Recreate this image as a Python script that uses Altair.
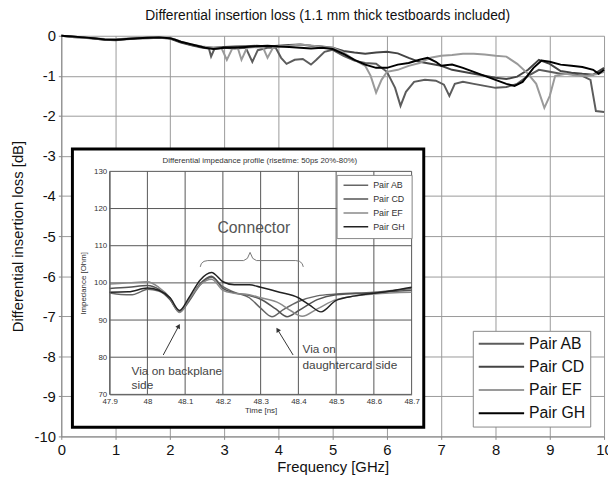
import altair as alt
import pandas as pd

# ---------------- data ----------------
PAIRS = ["Pair AB", "Pair CD", "Pair EF", "Pair GH"]

# main chart: (frequency GHz, insertion loss dB)
AB = [(0.0,0.0),(0.2,-0.03),(0.4,-0.05),(0.6,-0.07),(0.8,-0.1),(1.0,-0.11),(1.2,-0.09),(1.4,-0.07),(1.6,-0.06),(1.8,-0.05),(2.0,-0.07),(2.2,-0.17),(2.4,-0.24),(2.6,-0.3),(2.72,-0.32),(2.76,-0.52),(2.82,-0.33),(3.0,-0.3),(3.2,-0.32),(3.4,-0.3),(3.52,-0.65),(3.62,-0.36),(3.8,-0.3),(3.95,-0.3),(4.05,-0.55),(4.15,-0.7),(4.3,-0.6),(4.45,-0.58),(4.6,-0.72),(4.7,-0.6),(4.85,-0.4),(5.0,-0.35),(5.2,-0.5),(5.4,-0.62),(5.6,-0.68),(5.8,-0.7),(6.0,-0.9),(6.15,-1.3),(6.25,-1.75),(6.35,-1.4),(6.5,-1.15),(6.7,-1.1),(6.9,-1.12),(7.05,-1.22),(7.15,-1.5),(7.25,-1.2),(7.4,-1.15),(7.6,-1.2),(7.8,-1.25),(8.0,-1.3),(8.2,-1.28),(8.4,-1.2),(8.6,-1.0),(8.8,-0.85),(9.0,-0.9),(9.2,-0.95),(9.4,-0.95),(9.6,-1.0),(9.75,-1.1),(9.85,-1.88),(10.0,-1.9)]
CD = [(0.0,0.0),(0.2,-0.02),(0.4,-0.04),(0.6,-0.07),(0.8,-0.1),(1.0,-0.1),(1.2,-0.08),(1.4,-0.06),(1.6,-0.05),(1.8,-0.05),(2.0,-0.06),(2.2,-0.16),(2.4,-0.23),(2.6,-0.28),(2.8,-0.3),(3.0,-0.28),(3.2,-0.27),(3.4,-0.26),(3.6,-0.25),(3.8,-0.27),(4.0,-0.25),(4.2,-0.23),(4.4,-0.22),(4.6,-0.25),(4.8,-0.27),(5.0,-0.3),(5.2,-0.38),(5.4,-0.42),(5.6,-0.45),(5.8,-0.42),(6.0,-0.4),(6.2,-0.44),(6.4,-0.55),(6.6,-0.65),(6.8,-0.7),(7.0,-0.75),(7.2,-0.85),(7.4,-0.9),(7.6,-0.95),(7.8,-1.0),(8.0,-1.05),(8.2,-1.08),(8.4,-1.02),(8.6,-0.85),(8.8,-0.6),(9.0,-0.7),(9.2,-0.88),(9.4,-0.92),(9.6,-0.95),(9.8,-0.97),(10.0,-0.8)]
EF = [(0.0,0.0),(0.2,-0.03),(0.4,-0.05),(0.6,-0.06),(0.8,-0.08),(1.0,-0.09),(1.2,-0.07),(1.4,-0.05),(1.6,-0.04),(1.8,-0.04),(2.0,-0.05),(2.2,-0.14),(2.4,-0.22),(2.6,-0.27),(2.8,-0.3),(2.95,-0.3),(3.05,-0.6),(3.15,-0.32),(3.25,-0.3),(3.32,-0.6),(3.42,-0.3),(3.6,-0.28),(3.72,-0.3),(3.8,-0.55),(3.9,-0.3),(4.0,-0.27),(4.2,-0.25),(4.4,-0.22),(4.6,-0.24),(4.8,-0.28),(5.0,-0.3),(5.2,-0.42),(5.4,-0.6),(5.6,-0.75),(5.7,-1.0),(5.8,-1.42),(5.9,-1.1),(6.0,-0.9),(6.2,-0.85),(6.4,-0.75),(6.6,-0.68),(6.8,-0.55),(7.0,-0.5),(7.2,-0.48),(7.4,-0.45),(7.6,-0.45),(7.8,-0.47),(8.0,-0.5),(8.2,-0.52),(8.4,-0.7),(8.6,-0.95),(8.75,-1.2),(8.9,-1.8),(9.0,-1.5),(9.1,-1.0),(9.3,-0.95),(9.5,-1.0),(9.7,-1.0),(9.9,-0.95),(10.0,-0.9)]
GH = [(0.0,0.0),(0.2,-0.02),(0.4,-0.04),(0.6,-0.06),(0.8,-0.09),(1.0,-0.1),(1.2,-0.08),(1.4,-0.06),(1.6,-0.05),(1.8,-0.04),(2.0,-0.06),(2.1,-0.1),(2.2,-0.15),(2.35,-0.2),(2.5,-0.25),(2.65,-0.3),(2.8,-0.33),(3.0,-0.3),(3.2,-0.3),(3.4,-0.28),(3.6,-0.26),(3.8,-0.25),(4.0,-0.27),(4.2,-0.28),(4.4,-0.3),(4.6,-0.32),(4.8,-0.3),(5.0,-0.33),(5.2,-0.45),(5.4,-0.6),(5.6,-0.72),(5.8,-0.8),(6.0,-0.8),(6.2,-0.72),(6.4,-0.68),(6.6,-0.6),(6.75,-0.55),(6.9,-0.65),(7.0,-0.75),(7.2,-0.72),(7.4,-0.8),(7.6,-0.9),(7.8,-1.0),(8.0,-1.1),(8.2,-1.2),(8.35,-1.25),(8.5,-1.15),(8.7,-0.8),(8.85,-0.62),(9.0,-0.65),(9.2,-0.72),(9.4,-0.75),(9.6,-0.78),(9.8,-0.85),(9.9,-0.95),(10.0,-0.85)]

# inset: (time ns, impedance Ohm)
IN_AB = [(47.9,97.3),(47.93,96.9),(47.96,96.8),(47.98,97.5),(48.0,98.3),(48.03,97.8),(48.06,95.5),(48.085,92.1),(48.11,95.0),(48.14,99.5),(48.17,101.5),(48.2,99.0),(48.23,97.5),(48.27,96.0),(48.3,93.2),(48.33,90.9),(48.36,92.8),(48.4,95.0),(48.45,96.5),(48.5,97.0),(48.6,97.5),(48.7,98.5)]
IN_CD = [(47.9,98.5),(47.95,98.8),(48.0,99.3),(48.03,98.3),(48.06,95.5),(48.085,92.3),(48.11,95.3),(48.14,99.8),(48.17,101.8),(48.2,98.5),(48.23,97.3),(48.27,96.6),(48.3,95.6),(48.34,93.0),(48.37,90.9),(48.4,92.5),(48.45,95.5),(48.5,96.8),(48.6,97.3),(48.7,98.0)]
IN_EF = [(47.9,99.7),(47.95,100.0),(48.0,100.3),(48.03,98.8),(48.06,96.0),(48.085,92.0),(48.11,95.5),(48.14,99.5),(48.17,101.0),(48.2,98.0),(48.23,97.2),(48.27,96.8),(48.3,96.0),(48.35,94.5),(48.38,92.5),(48.41,91.0),(48.45,93.0),(48.5,95.5),(48.6,97.0),(48.7,97.5)]
IN_GH = [(47.9,97.5),(47.95,97.6),(48.0,98.6),(48.03,98.0),(48.06,96.0),(48.085,92.6),(48.11,96.0),(48.14,100.8),(48.17,102.8),(48.2,100.3),(48.23,99.5),(48.27,99.5),(48.3,98.8),(48.35,97.5),(48.4,96.0),(48.43,94.0),(48.46,92.2),(48.5,95.3),(48.55,96.5),(48.6,97.2),(48.65,97.9),(48.7,98.8)]

MAIN_X_TICKS = [0, 1, 2, 3, 4, 5, 6, 7, 8, 9, 10]
MAIN_Y_TICKS = [0, -1, -2, -3, -4, -5, -6, -7, -8, -9, -10]
IN_X_TICKS = [47.9, 48.0, 48.1, 48.2, 48.3, 48.4, 48.5, 48.6, 48.7]
IN_Y_TICKS = [70, 80, 90, 100, 110, 120, 130]

# brace over "Connector" (time ns, Ohm)
BRACE = [(48.140,104.3),(48.143,105.2),(48.150,105.8),(48.160,106.0),(48.255,106.0),(48.265,106.6),(48.272,108.2),(48.279,106.6),(48.289,106.0),(48.393,106.0),(48.403,105.8),(48.410,105.2),(48.413,104.3)]
# arrows: tail (t, z) -> head (t, z)
ARROWS = [((48.042, 80.6), (48.083, 88.4)), ((48.386, 80.6), (48.345, 87.4))]
ARROW_ANGLES = [28, 328]
# annotation texts (t, z, text, size)
NOTES = [(48.282, 114.8, "Connector", 16, "center"),
         (47.958, 76.3, "Via on backplane", 12, "left"),
         (47.958, 72.6, "side", 12, "left"),
         (48.411, 82.1, "Via on", 12, "left"),
         (48.411, 78.0, "daughtercard side", 12, "left")]
INSET_TITLE = (48.298, 132.8, "Differential impedance profile (risetime: 50ps 20%-80%)")
# inset panel placement in main-chart units (GHz, dB)
INSET_BOX = (0.205, 6.678, -2.825, -9.771)

# ---------------- layout / style ----------------
W, H = 550, 406
FONT = "Liberation Sans"
MAIN_COLORS = ["#5c5c5c", "#444444", "#9a9a9a", "#000000"]
INSET_COLORS = ["#666666", "#555555", "#8a8a8a", "#222222"]
IN_X_RANGE = [49.0, 355.0]
IN_Y_RANGE = [363.4, 137.4]

def frame(series, names, cols):
    rows = []
    for name, pts in zip(names, series):
        for a, b in pts:
            rows.append({cols[0]: a, cols[1]: b, "pair": name})
    return pd.DataFrame(rows)

main_df = frame([AB, CD, EF, GH], PAIRS, ("f", "db"))
inset_df = frame([IN_AB, IN_CD, IN_EF, IN_GH], PAIRS, ("t", "z"))

main_x_axis = alt.Axis(values=MAIN_X_TICKS, title="Frequency [GHz]", grid=True, gridColor="#999999",
                       domainColor="#888888", tickColor="#888888", tickSize=3, labelFlush=False,
                       labelExpr="'' + datum.value",
                       labelFontSize=15, titleFontSize=15, titleFontWeight="normal", labelColor="#111111",
                       titleColor="#111111", labelPadding=3, titlePadding=3, labelFont=FONT, titleFont=FONT)
main_y_axis = alt.Axis(values=MAIN_Y_TICKS, title="Differential insertion loss [dB]", grid=True, gridColor="#999999",
                       domainColor="#888888", tickColor="#888888", tickSize=3, labelFlush=False,
                       labelExpr="'' + datum.value",
                       labelFontSize=15, titleFontSize=15, titleFontWeight="normal", labelColor="#111111",
                       titleColor="#111111", labelPadding=3, titlePadding=9, labelFont=FONT, titleFont=FONT)
mx = dict(scale=alt.Scale(domain=[0, 10], nice=False, zero=False), axis=main_x_axis)
my = dict(scale=alt.Scale(domain=[-10, 0], nice=False, zero=False), axis=main_y_axis)

main_legend = alt.Legend(title=None, orient="none", legendX=417, legendY=299, symbolType="stroke",
                         symbolSize=2116, clipHeight=16, labelFontSize=16, labelFont=FONT,
                         labelColor="#111111", fillColor="white", strokeColor="#888888", padding=5,
                         rowPadding=7.5, labelOffset=4)

main_lines = alt.Chart(main_df).mark_line().encode(
    x=alt.X("f:Q", **mx),
    y=alt.Y("db:Q", **my),
    color=alt.Color("pair:N", scale=alt.Scale(domain=PAIRS, range=MAIN_COLORS), legend=main_legend),
    strokeWidth=alt.StrokeWidth("pair:N", scale=alt.Scale(domain=PAIRS, range=[2, 2, 2, 2.6]), legend=main_legend),
)

box_df = pd.DataFrame([{"f": INSET_BOX[0], "f2": INSET_BOX[1], "db": INSET_BOX[2], "db2": INSET_BOX[3]}])
box = alt.Chart(box_df).mark_rect(fill="white", stroke="black", strokeWidth=3).encode(
    x=alt.X("f:Q", **mx), x2="f2:Q", y=alt.Y("db:Q", **my), y2="db2:Q")

main_layer = alt.layer(main_lines, box)

# ---------------- inset ----------------
in_x_axis = alt.Axis(values=IN_X_TICKS, title="Time [ns]", orient="bottom", offset=IN_Y_RANGE[0] - H,
                     grid=False, ticks=False, domainColor="#666666", labelFlush=False, zindex=1,
                     labelExpr="format(datum.value, '.4~g')", labelFontSize=8, titleFontSize=8,
                     titleFontWeight="normal", labelColor="#333333", titleColor="#333333",
                     labelPadding=3, titlePadding=1, labelFont=FONT, titleFont=FONT)
in_y_axis = alt.Axis(values=IN_Y_TICKS, title="Impedance [Ohm]", orient="left", offset=-IN_X_RANGE[0],
                     grid=False, ticks=False, domainColor="#666666", labelFlush=False, zindex=1,
                     labelFontSize=8, titleFontSize=8, titleFontWeight="normal", labelColor="#333333",
                     titleColor="#333333", labelPadding=3, titlePadding=6, labelFont=FONT, titleFont=FONT)
ix = dict(scale=alt.Scale(domain=[47.9, 48.7], range=IN_X_RANGE, nice=False, zero=False), axis=in_x_axis)
iy = dict(scale=alt.Scale(domain=[70, 130], range=IN_Y_RANGE, nice=False, zero=False), axis=in_y_axis)

vgrid_df = pd.DataFrame({"t": IN_X_TICKS, "z": [70] * len(IN_X_TICKS), "z2": [130] * len(IN_X_TICKS)})
hgrid_df = pd.DataFrame({"z": IN_Y_TICKS, "t": [47.9] * len(IN_Y_TICKS), "t2": [48.7] * len(IN_Y_TICKS)})
vgrid = alt.Chart(vgrid_df).mark_rule(color="#555555", strokeWidth=1).encode(
    x=alt.X("t:Q", **ix), y=alt.Y("z:Q", **iy), y2="z2:Q")
hgrid = alt.Chart(hgrid_df).mark_rule(color="#555555", strokeWidth=1).encode(
    y=alt.Y("z:Q", **iy), x=alt.X("t:Q", **ix), x2="t2:Q")

inset_legend = alt.Legend(title=None, orient="none", legendX=279, legendY=141, symbolType="stroke",
                          symbolSize=625, clipHeight=9, labelFontSize=9, labelFont=FONT,
                          labelColor="#333333", fillColor="white", strokeColor="#888888", padding=6,
                          rowPadding=4, labelOffset=4)
inset_lines = alt.Chart(inset_df).mark_line(interpolate="monotone").encode(
    x=alt.X("t:Q", **ix), y=alt.Y("z:Q", **iy),
    color=alt.Color("pair:N", scale=alt.Scale(domain=PAIRS, range=INSET_COLORS), legend=inset_legend),
    strokeWidth=alt.StrokeWidth("pair:N", scale=alt.Scale(domain=PAIRS, range=[1.5, 1.5, 1.5, 2.2]), legend=inset_legend),
)

brace_df = pd.DataFrame([{"t": a, "z": b, "i": k} for k, (a, b) in enumerate(BRACE)])
brace = alt.Chart(brace_df).mark_line(color="#777777", strokeWidth=1).encode(
    x=alt.X("t:Q", **ix), y=alt.Y("z:Q", **iy), order="i:Q")

arrow_df = pd.DataFrame([{"t": a[0], "z": a[1], "t2": b[0], "z2": b[1], "ang": g}
                         for (a, b), g in zip(ARROWS, ARROW_ANGLES)])
arrow_lines = alt.Chart(arrow_df).mark_rule(color="#333333", strokeWidth=1).encode(
    x=alt.X("t:Q", **ix), y=alt.Y("z:Q", **iy), x2="t2:Q", y2="z2:Q")
arrow_heads = alt.Chart(arrow_df).mark_point(shape="triangle-up", filled=True, size=28, color="#333333", opacity=1).encode(
    x=alt.X("t2:Q", **ix), y=alt.Y("z2:Q", **iy), angle=alt.Angle("ang:Q", scale=None))

notes_df = pd.DataFrame([{"t": a, "z": b, "txt": s, "fs": fs, "al": al} for a, b, s, fs, al in NOTES])
notes_big = alt.Chart(notes_df[notes_df.fs == 16]).mark_text(fontSize=16, font=FONT, color="#555555", align="center", baseline="middle").encode(
    x=alt.X("t:Q", **ix), y=alt.Y("z:Q", **iy), text="txt:N")
notes_small = alt.Chart(notes_df[notes_df.fs == 12]).mark_text(fontSize=12, font=FONT, color="#444444", align="left", baseline="middle").encode(
    x=alt.X("t:Q", **ix), y=alt.Y("z:Q", **iy), text="txt:N")
ititle_df = pd.DataFrame([{"t": INSET_TITLE[0], "z": INSET_TITLE[1], "txt": INSET_TITLE[2]}])
ititle = alt.Chart(ititle_df).mark_text(fontSize=8, font=FONT, color="#333333", align="center", baseline="middle").encode(
    x=alt.X("t:Q", **ix), y=alt.Y("z:Q", **iy), text="txt:N")

inset_layer = alt.layer(vgrid, hgrid, inset_lines, brace, arrow_lines, arrow_heads, notes_big, notes_small, ititle)

chart = alt.layer(main_layer, inset_layer).resolve_scale(
    x="independent", y="independent", color="independent", strokeWidth="independent"
).resolve_axis(x="independent", y="independent").resolve_legend(
    color="independent", strokeWidth="independent"
).properties(
    width=W, height=H,
    padding={"left": 54, "top": 25, "right": 4, "bottom": 40},
    autosize=alt.AutoSizeParams(type="none"),
    title=alt.Title("Differential insertion loss (1.1 mm thick testboards included)", fontSize=14,
                    font=FONT, fontWeight="normal", color="#111111", offset=6, dx=-5),
).configure(font=FONT, background="white").configure_view(stroke=None)

chart.save("out.html", embed_options={"renderer": "svg", "actions": False})
